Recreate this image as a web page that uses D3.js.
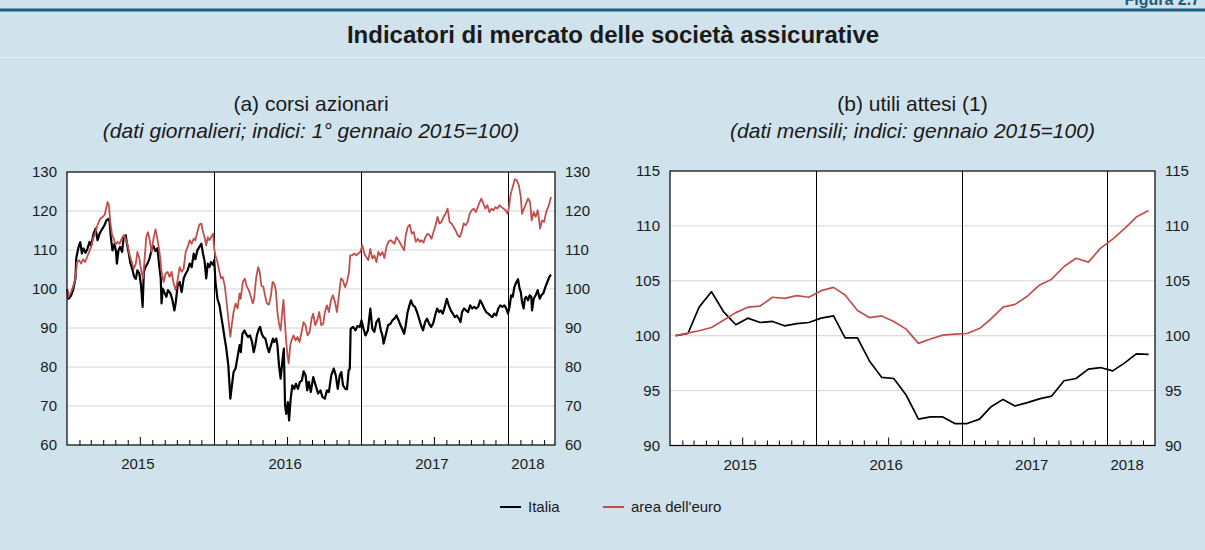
<!DOCTYPE html>
<html>
<head>
<meta charset="utf-8">
<script src="https://cdn.jsdelivr.net/npm/d3@7"></script>
<style>
    body { margin: 0; background: #d0e2ec; }
    svg text { font-family: "Liberation Sans", Arial, Helvetica, sans-serif; fill: #1a1a1a; }
</style>
</head>
<body>
<svg id="figura" width="1205" height="550"></svg>
<script>
// (a) daily share prices: [days since 1 Jan 2015, index]
const italiaGiornaliero = [[0,100],[4,97.5],[10,98.3],[15,99.7],[21,102.7],[23,107.9],[29,110.9],[33,112.0],[37,109.1],[41,110.4],[46,109.3],[51,110.4],[56,112.1],[60,111.1],[66,114.2],[71,115.5],[76,112.5],[81,114.2],[87,115.3],[93,116.3],[98,117.6],[103,118.0],[106,117.2],[109,113.3],[113,109.9],[118,111.6],[122,109.5],[124,106.5],[128,109.9],[132,110.8],[137,109.5],[141,113.3],[146,113.8],[149,111.6],[153,109.5],[157,106.9],[162,105.2],[167,103.1],[171,102.6],[175,104.8],[180,103.9],[184,100.9],[188,95.4],[191,104.4],[195,105.6],[200,106.5],[205,107.8],[210,109.9],[215,111.0],[220,109.7],[225,110.5],[229,106.1],[233,102.7],[235,96.3],[238,100.1],[243,98.9],[247,98.0],[251,99.7],[257,98.9],[262,97.2],[267,94.5],[270,96.3],[275,100.9],[280,101.8],[285,99.2],[290,102.7],[295,103.9],[300,104.8],[305,106.5],[310,105.6],[315,109.1],[319,107.6],[324,109.9],[329,110.8],[334,111.6],[338,109.1],[342,107.1],[346,102.7],[350,106.5],[354,105.6],[358,106.9],[363,106.2],[366,107.4],[369,101.8],[374,97.5],[379,95.8],[383,93.2],[387,90.7],[392,87.3],[396,84.7],[401,80.4],[404,75.3],[406,71.9],[410,75.3],[414,78.7],[419,79.6],[424,82.6],[429,85.6],[432,83.8],[436,88.5],[441,89.4],[445,88.5],[450,87.7],[455,88.1],[460,86.4],[464,83.8],[468,85.6],[472,88.1],[477,89.8],[480,90.3],[484,88.5],[488,87.7],[493,87.3],[498,85.1],[502,83.8],[507,85.6],[512,87.3],[515,86.4],[520,87.3],[523,85.6],[527,80.4],[531,77.0],[536,82.1],[539,84.7],[542,70.3],[545,68.0],[549,71.0],[552,66.3],[556,71.9],[560,75.3],[565,74.4],[569,75.7],[574,74.4],[579,76.2],[584,76.6],[588,78.9],[593,77.9],[597,74.0],[601,76.2],[606,73.6],[612,77.4],[618,75.3],[624,73.2],[630,74.0],[635,72.3],[641,71.9],[646,74.0],[651,73.6],[657,77.9],[663,79.6],[668,77.9],[673,74.4],[678,77.9],[682,78.7],[686,75.3],[692,74.4],[696,74.3],[700,79.1],[703,79.6],[705,89.8],[711,90.3],[717,89.4],[722,90.5],[728,90.3],[732,92.0],[737,89.8],[742,88.1],[748,89.4],[754,95.0],[759,89.8],[764,89.0],[769,91.5],[775,92.4],[780,89.4],[784,88.1],[787,86.0],[792,88.1],[798,90.7],[804,91.1],[809,92.0],[814,92.4],[819,93.2],[824,92.0],[829,90.7],[833,89.8],[838,88.5],[842,90.7],[846,93.7],[850,95.4],[855,97.1],[860,95.8],[865,95.4],[870,94.1],[875,92.4],[880,90.7],[885,89.4],[890,91.5],[895,92.4],[900,91.1],[905,90.3],[910,91.1],[915,93.2],[920,95.0],[925,94.1],[929,94.5],[934,93.7],[939,95.4],[944,97.5],[949,95.8],[954,94.5],[959,93.7],[964,92.8],[969,93.2],[974,92.4],[978,91.5],[982,94.1],[987,95.0],[992,94.5],[997,94.1],[1002,95.8],[1007,95.0],[1012,95.4],[1017,95.0],[1022,95.4],[1027,97.1],[1032,96.2],[1037,95.0],[1042,94.1],[1047,93.7],[1052,93.2],[1057,92.8],[1062,93.7],[1067,93.2],[1072,95.0],[1077,95.8],[1082,95.4],[1087,95.8],[1092,95.0],[1096,93.7],[1100,95.4],[1104,98.4],[1108,98.0],[1112,100.5],[1117,101.8],[1121,102.5],[1125,100.1],[1128,99.2],[1131,96.7],[1135,95.0],[1138,97.5],[1141,98.0],[1146,97.1],[1150,98.4],[1154,98.0],[1156,94.5],[1160,97.5],[1165,98.4],[1170,99.7],[1175,97.5],[1179,98.4],[1184,98.9],[1189,100.5],[1194,101.8],[1199,103.1],[1203,103.7]]

const euroGiornaliero = [[0,100],[4,98.0],[10,99.2],[15,100.6],[21,102.7],[25,106.9],[30,107.4],[35,106.5],[40,107.6],[45,106.9],[50,108.2],[55,109.5],[60,110.8],[65,112.9],[70,114.2],[74,115.9],[79,117.2],[84,118.2],[89,118.5],[94,119.1],[98,121.0],[101,122.3],[104,121.5],[108,116.8],[112,113.8],[116,112.9],[121,111.4],[126,112.1],[131,111.6],[136,112.9],[141,113.8],[146,112.9],[151,111.2],[156,108.6],[161,106.9],[166,105.2],[171,106.5],[175,109.5],[180,107.8],[185,104.4],[189,102.7],[193,107.8],[197,113.3],[201,114.6],[205,112.9],[210,109.5],[215,112.9],[220,115.3],[224,113.3],[228,110.8],[232,107.8],[235,104.4],[240,101.8],[245,103.9],[250,104.4],[255,103.1],[260,104.4],[265,101.4],[270,99.7],[275,102.3],[280,105.6],[285,104.4],[290,105.2],[295,109.5],[300,110.8],[305,112.5],[310,111.6],[315,112.9],[319,112.5],[324,114.6],[329,116.5],[334,116.8],[338,114.6],[342,113.3],[346,111.2],[350,113.3],[354,112.5],[358,113.3],[363,114.2],[366,110.3],[369,108.6],[374,106.9],[379,104.4],[383,102.7],[387,103.1],[392,100.9],[396,97.5],[401,92.4],[406,87.7],[410,91.1],[414,94.1],[419,96.3],[424,95.0],[429,98.9],[432,97.5],[437,101.8],[442,102.7],[447,100.6],[452,99.7],[457,98.0],[462,96.3],[465,97.5],[470,102.7],[475,105.6],[479,104.4],[483,100.9],[488,100.6],[492,98.4],[497,96.3],[502,96.0],[507,98.4],[511,101.8],[515,101.4],[519,99.7],[523,94.1],[527,91.1],[531,89.4],[535,94.1],[538,97.2],[541,92.4],[545,86.4],[548,83.0],[551,80.9],[555,85.6],[558,86.8],[563,88.1],[568,86.8],[573,87.7],[578,86.4],[583,88.9],[588,91.5],[593,90.7],[598,88.1],[603,88.9],[608,92.4],[612,93.7],[617,90.7],[622,92.0],[627,94.1],[632,90.7],[637,91.1],[641,94.1],[646,95.8],[651,94.1],[656,97.1],[661,98.4],[666,96.7],[671,94.1],[676,98.4],[681,102.7],[686,102.2],[691,100.5],[696,101.8],[701,104.4],[704,108.6],[709,108.6],[714,109.1],[719,108.6],[724,109.1],[729,109.5],[734,111.2],[739,109.1],[744,108.2],[749,107.4],[754,110.3],[759,107.8],[764,108.6],[769,106.9],[774,109.5],[779,108.6],[784,109.5],[789,107.9],[794,110.8],[799,112.1],[804,112.5],[809,112.1],[814,111.6],[819,113.3],[824,112.5],[829,111.6],[833,110.8],[838,109.9],[842,113.8],[847,115.9],[852,116.5],[857,114.2],[862,114.6],[867,112.1],[872,112.9],[877,112.1],[881,112.5],[886,111.9],[891,113.3],[896,114.2],[901,113.8],[906,112.9],[911,114.6],[916,116.3],[921,118.5],[926,116.8],[931,117.2],[936,118.5],[941,119.3],[946,120.6],[951,117.2],[956,116.8],[961,115.9],[966,115.0],[971,113.8],[976,113.3],[981,114.6],[986,116.8],[991,116.3],[996,117.2],[1001,119.3],[1006,120.2],[1011,120.6],[1016,119.7],[1021,121.0],[1026,122.3],[1030,123.2],[1035,121.9],[1040,120.6],[1045,121.5],[1050,119.7],[1055,120.6],[1060,120.2],[1065,121.0],[1070,120.6],[1075,121.5],[1080,121.0],[1085,120.6],[1090,120.2],[1095,119.3],[1098,120.6],[1103,124.4],[1108,126.2],[1113,128.1],[1118,127.9],[1123,126.6],[1128,123.6],[1131,119.3],[1136,120.6],[1141,121.9],[1146,123.2],[1151,122.3],[1155,117.6],[1160,119.7],[1165,118.5],[1170,120.2],[1173,118.0],[1176,115.5],[1181,117.6],[1186,117.2],[1191,119.7],[1196,121.0],[1199,121.9],[1203,123.6]]

// (b) monthly expected earnings, Jan 2015 - Apr 2018
const mesi = d3.timeMonth.range(new Date(2015, 0, 1), new Date(2018, 4, 1))
const italiaMensile = [100.0, 100.2, 102.6, 104.0, 102.2, 101.0, 101.6, 101.2, 101.3, 100.9, 101.1, 101.2,
    101.6, 101.8, 99.8, 99.8, 97.7, 96.2, 96.1, 94.6, 92.4, 92.6, 92.6, 92.0,
    92.0, 92.4, 93.5, 94.2, 93.6, 93.9, 94.25, 94.5, 95.9, 96.1, 96.95, 97.1,
    96.8, 97.55, 98.35, 98.3]
const euroMensile = [100.0, 100.25, 100.45, 100.75, 101.4, 102.1, 102.6, 102.7, 103.5, 103.4, 103.65, 103.5,
    104.1, 104.4, 103.7, 102.3, 101.65, 101.8, 101.3, 100.6, 99.3, 99.7, 100.05, 100.15,
    100.2, 100.65, 101.5, 102.6, 102.85, 103.6, 104.6, 105.15, 106.3, 107.05, 106.7, 107.95,
    108.8, 109.8, 110.8, 111.4]

const anni = [2015, 2016, 2017, 2018]
const tickA = [60, 70, 80, 90, 100, 110, 120, 130]
const tickB = [90, 95, 100, 105, 110, 115]
const nomiSerie = ['Italia', "area dell'euro"]
const coloriSerie = ['#000000', '#c0504d']

const inizio = new Date(2015, 0, 1)
const daGiorni = arr => arr.map(([g, v]) => ({ date: d3.timeDay.offset(inizio, g), value: v }))
const daMesi = arr => arr.map((v, i) => ({ date: d3.timeDay.offset(mesi[i], 14), value: v }))

const svg = d3.select('#figura')

svg.append('rect').attr('width', 1205).attr('height', 550).attr('fill', '#d0e2ec')

// header
svg.append('line').attr('x1', 0).attr('x2', 1205).attr('y1', 10).attr('y2', 10)
    .attr('stroke', '#1b5e7e').attr('stroke-width', 3)
svg.append('text').attr('x', 1200).attr('y', 5).attr('text-anchor', 'end')
    .style('font-size', '16px').style('font-weight', 'bold').style('fill', '#1b5e7e')
    .text('Figura 2.7')
svg.append('text').attr('x', 613).attr('y', 43).attr('text-anchor', 'middle')
    .style('font-size', '24px').style('font-weight', 'bold')
    .text('Indicatori di mercato delle società assicurative')
svg.append('line').attr('x1', 0).attr('x2', 1205).attr('y1', 57.5).attr('y2', 57.5)
    .attr('stroke', '#e4eef4').attr('stroke-width', 1)

class Pannello {
    constructor(cfg) {
        this.cfg = cfg
        this.g = svg.append('g')
        this.draw()
    }

    draw() {
        const c = this.cfg
        const x = d3.scaleTime().domain([inizio, c.fine]).range([c.left, c.right])
        const y = d3.scaleLinear().domain(c.yDomain).range([c.bottom, c.top])
        const midX = (c.left + c.right) / 2

        this.g.append('text').attr('x', midX).attr('y', 111).attr('text-anchor', 'middle')
            .style('font-size', '21px').text(c.titolo)
        this.g.append('text').attr('x', midX).attr('y', 138).attr('text-anchor', 'middle')
            .style('font-size', '21px').style('font-style', 'italic').text(c.sottotitolo)

        this.g.append('rect')
            .attr('x', c.left).attr('y', c.top)
            .attr('width', c.right - c.left).attr('height', c.bottom - c.top)
            .attr('fill', '#fff')

        // gridlines
        this.g.append('g').selectAll('line')
            .data(c.ticks.slice(1, -1))
            .join('line')
            .attr('x1', c.left).attr('x2', c.right)
            .attr('y1', d => y(d)).attr('y2', d => y(d))
            .attr('stroke', '#d4d4d4').attr('stroke-width', 1)

        // year separators
        this.g.append('g').selectAll('line')
            .data(anni.slice(1).map(a => new Date(a, 0, 1)))
            .join('line')
            .attr('x1', d => Math.round(x(d)) + 0.5).attr('x2', d => Math.round(x(d)) + 0.5)
            .attr('y1', c.top).attr('y2', c.bottom)
            .attr('stroke', '#000').attr('stroke-width', 1)

        const line = d3.line().x(d => x(d.date)).y(d => y(d.value))
        c.serie.forEach((s, i) => {
            this.g.append('path')
                .datum(s)
                .attr('fill', 'none')
                .attr('stroke', coloriSerie[i])
                .attr('stroke-width', c.spessori[i])
                .attr('stroke-linejoin', 'round')
                .attr('d', line)
        })

        // month ticks pointing up, July a bit longer
        const mesiAsse = d3.timeMonth.range(inizio, c.fine).filter(d => d.getMonth() !== 0)
        this.g.append('g')
            .attr('transform', `translate(0, ${c.bottom})`)
            .call(d3.axisBottom(x).tickValues(mesiAsse.filter(d => d.getMonth() !== 6)).tickSize(-5).tickFormat(''))
            .call(g => g.select('.domain').remove())
        this.g.append('g')
            .attr('transform', `translate(0, ${c.bottom})`)
            .call(d3.axisBottom(x).tickValues(mesiAsse.filter(d => d.getMonth() === 6)).tickSize(-8).tickFormat(''))
            .call(g => g.select('.domain').remove())

        this.g.append('g').selectAll('text')
            .data(anni)
            .join('text')
            .attr('x', a => a < 2018 ? x(new Date(a, 6, 1)) - 2 : x(new Date(a, 1, 20)))
            .attr('y', c.bottom + 24)
            .attr('text-anchor', 'middle')
            .style('font-size', '15px')
            .text(a => a)

        this.g.append('g')
            .attr('transform', `translate(${c.left}, 0)`)
            .call(d3.axisLeft(y).tickValues(c.ticks).tickSize(0).tickPadding(10))
            .call(g => g.select('.domain').remove())
            .call(g => g.selectAll('text').style('font-size', '15px'))
        this.g.append('g')
            .attr('transform', `translate(${c.right}, 0)`)
            .call(d3.axisRight(y).tickValues(c.ticks).tickSize(0).tickPadding(10))
            .call(g => g.select('.domain').remove())
            .call(g => g.selectAll('text').style('font-size', '15px'))

        this.g.append('rect')
            .attr('x', c.left).attr('y', c.top)
            .attr('width', c.right - c.left).attr('height', c.bottom - c.top)
            .attr('fill', 'none').attr('stroke', '#000').attr('stroke-width', 1.2)
    }
}

new Pannello({
    titolo: '(a) corsi azionari',
    sottotitolo: '(dati giornalieri; indici: 1° gennaio 2015=100)',
    left: 67, right: 555, top: 172, bottom: 445,
    fine: new Date(2018, 3, 28),
    yDomain: [60, 130], ticks: tickA,
    serie: [daGiorni(italiaGiornaliero), daGiorni(euroGiornaliero)],
    spessori: [2.2, 1.8]
})

new Pannello({
    titolo: '(b) utili attesi (1)',
    sottotitolo: '(dati mensili; indici: gennaio 2015=100)',
    left: 670, right: 1155, top: 171, bottom: 445.5,
    fine: new Date(2018, 4, 1),
    yDomain: [90, 115], ticks: tickB,
    serie: [daMesi(italiaMensile), daMesi(euroMensile)],
    spessori: [1.7, 1.7]
})

// legend
const legenda = svg.append('g').attr('transform', 'translate(500, 507)')
nomiSerie.forEach((n, i) => {
    const item = legenda.append('g').attr('transform', `translate(${i * 103}, 0)`)
    item.append('line').attr('x1', 0).attr('x2', 21).attr('stroke', coloriSerie[i]).attr('stroke-width', 2)
    item.append('text').attr('x', 28).attr('y', 5).style('font-size', '15px').text(n)
})
</script>
</body>
</html>
